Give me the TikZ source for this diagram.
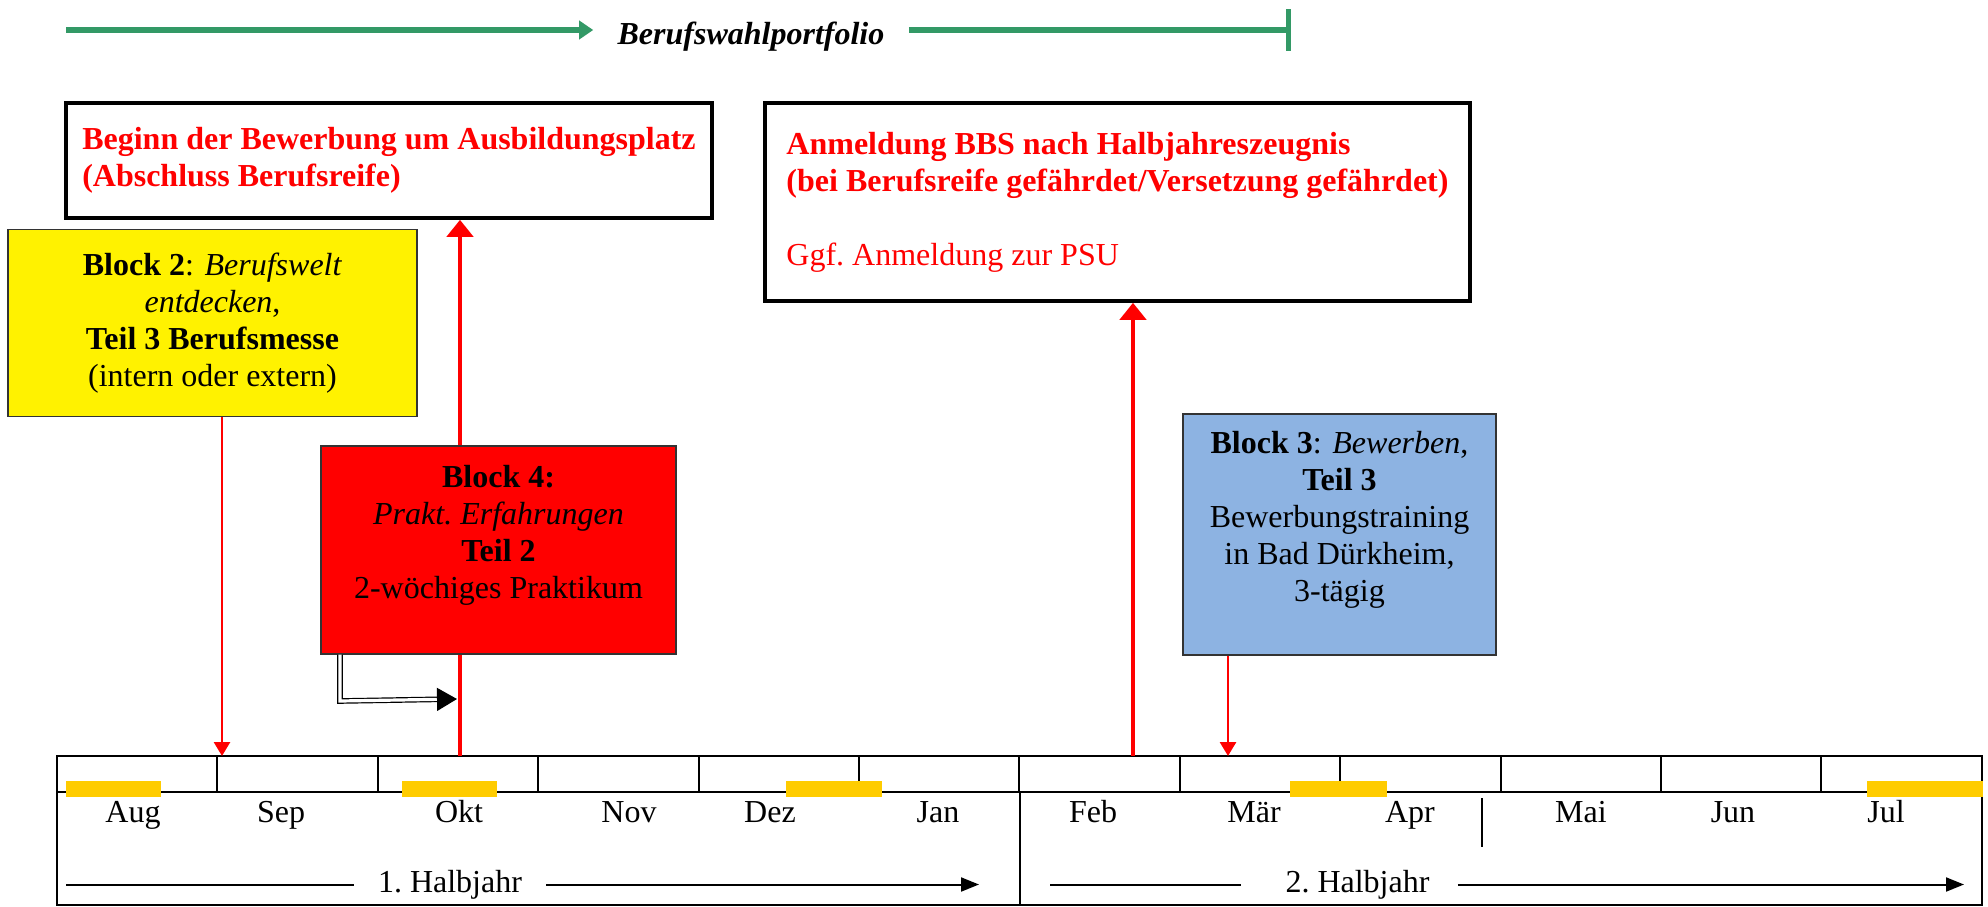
\documentclass[tikz,border=0pt]{standalone}
\usepackage{fontspec}
\setmainfont{Liberation Serif}
\usepackage{tikz}
\usetikzlibrary{arrows.meta}

\definecolor{pfgreen}{RGB}{51,153,102}
\definecolor{ferienorange}{RGB}{255,204,0}
\definecolor{blockblue}{RGB}{141,179,226}

\begin{document}
\begin{tikzpicture}[x=0.5pt,y=-0.5pt,font=\fontsize{16}{18.5}\selectfont,
  hinweis/.style={draw,line width=1.8pt,align=left,inner sep=0pt,text=red},
  block/.style={draw=black!80,line width=0.6pt,align=center,inner sep=0pt},
  zelle/.style={draw,line width=1pt,minimum width=80.2pt,minimum height=18pt,inner sep=0pt},
  monat/.style={text height=11pt,text depth=3.5pt,inner sep=0pt},
  halbjahr/.style={text height=11pt,text depth=3.5pt,inner xsep=12pt,inner ysep=0pt},
  ferien/.style={fill=ferienorange},
  gruen/.style={pfgreen,line width=2.6pt},
  linie/.style={line width=1pt},
  pfeil/.style={red,line width=1.4pt,-{Triangle[length=7pt,width=8pt]}},
  dickpfeil/.style={red,line width=2.4pt,-{Triangle[length=8.5pt,width=13pt]}},
  doppelpfeil/.style={double,double distance=1.6pt,line width=0.6pt,-{Triangle[length=10pt,width=11.5pt]}}]

    \useasboundingbox (0,0) rectangle (1988,906);

    % Berufswahlportfolio
    \node [font=\fontsize{16}{18.5}\selectfont\bfseries\itshape,inner xsep=12pt] (pf) at (751,37) {Berufswahlportfolio};
    \coordinate (pfstart) at (66,30);
    \coordinate (pfende) at (1291,30);
    \draw[gruen,-{Triangle[length=7pt,width=9pt]}] (pfstart) -- (pfstart -| pf.west);
    \draw[gruen,-{Bar[width=21pt]}] (pfstart -| pf.east) -- (pfende);

    % Hinweise
    \node [hinweis,minimum width=323pt,minimum height=57.5pt] (beginn) at (389,160.5)
      {\textbf{Beginn der Bewerbung um Ausbildungsplatz}\\ \textbf{(Abschluss Berufsreife)}};
    \node [hinweis,minimum width=352.5pt,minimum height=99pt] (anm) at (1117.5,202)
      {\textbf{Anmeldung BBS nach Halbjahreszeugnis}\\ \textbf{(bei Berufsreife gefährdet/Versetzung gefährdet)}\\[18.5pt] Ggf.\ Anmeldung zur PSU};

    % Zeitleiste
    \node [zelle] (c1) at (137.2,774) {};
    \node [zelle] (c2) at (297.6,774) {};
    \node [zelle] (c3) at (458.0,774) {};
    \node [zelle] (c4) at (618.4,774) {};
    \node [zelle] (c5) at (778.8,774) {};
    \node [zelle] (c6) at (939.2,774) {};
    \node [zelle] (c7) at (1099.6,774) {};
    \node [zelle] (c8) at (1260.0,774) {};
    \node [zelle] (c9) at (1420.4,774) {};
    \node [zelle] (c10) at (1580.8,774) {};
    \node [zelle] (c11) at (1741.2,774) {};
    \node [zelle] (c12) at (1901.6,774) {};
    \node [draw,line width=1.2pt,minimum width=962.5pt,minimum height=74.5pt,inner sep=0pt] (zeitleiste) at (1019.5,830.5) {};
    \draw[linie] (c6.south east) -- (c6.south east |- zeitleiste.south);
    \coordinate (strich) at (1482,798);
    \draw[linie] (strich) -- ++(0,49);

    % Ferien
    \fill[ferien] (66,781) rectangle (161,797);
    \fill[ferien] (402,781) rectangle (497,797);
    \fill[ferien] (786,781) rectangle (882,797);
    \fill[ferien] (1290,781) rectangle (1387,797);
    \fill[ferien] (1867,781) rectangle (1983,797);

    % Monate
    \node [monat] (Aug) at (133,814.5) {Aug};
    \node [monat] (Sep) at (281,814.5) {Sep};
    \node [monat] (Okt) at (459,814.5) {Okt};
    \node [monat] (Nov) at (629,814.5) {Nov};
    \node [monat] (Dez) at (770,814.5) {Dez};
    \node [monat] (Jan) at (938,814.5) {Jan};
    \node [monat] (Feb) at (1093,814.5) {Feb};
    \node [monat] (Mar) at (1254,814.5) {Mär};
    \node [monat] (Apr) at (1410,814.5) {Apr};
    \node [monat] (Mai) at (1581,814.5) {Mai};
    \node [monat] (Jun) at (1733,814.5) {Jun};
    \node [monat] (Jul) at (1886,814.5) {Jul};

    % Halbjahre
    \node [halbjahr] (hj1) at (450,884.5) {1.\ Halbjahr};
    \coordinate (hj1start) at (66,884.5);
    \coordinate (hj1ende) at (979,884.5);
    \draw[linie] (hj1start) -- (hj1.west);
    \draw[linie,-{Triangle[length=9pt,width=7pt]}] (hj1.east) -- (hj1ende);

    \node [halbjahr] (hj2) at (1357.5,884.5) {2.\ Halbjahr};
    \coordinate (hj2start) at (1050,884.5);
    \coordinate (hj2ende) at (1964,884.5);
    \draw[linie] (hj2start) -- ([xshift=-10pt]hj2.west);
    \draw[linie,-{Triangle[length=9pt,width=7pt]}] ([xshift=2pt]hj2.east) -- (hj2ende);

    % Bausteine
    \node [block,fill=yellow,minimum width=204.5pt,minimum height=93.5pt] (b2) at (212.5,323)
      {\textbf{Block 2}: \textit{Berufswelt}\\ \textit{entdecken},\\ \textbf{Teil 3 Berufsmesse}\\ (intern oder extern)};
    \node [block,fill=blockblue,minimum width=156.5pt,minimum height=120.5pt] (b3) at (1339.5,534.5)
      {\textbf{Block 3}: \textit{Bewerben},\\ \textbf{Teil 3}\\ Bewerbungstraining\\ in Bad Dürkheim,\\ 3-tägig\\ \mbox{}};

    % Pfeile
    \coordinate (sepmark) at (222,756);
    \coordinate (oktmark) at (460,756);
    \coordinate (febmark) at (1133,756);
    \coordinate (marmark) at (1228,756);
    \draw[dickpfeil] (oktmark) -- (oktmark |- beginn.south);
    \draw[dickpfeil] (febmark) -- (febmark |- anm.south);
    \draw[pfeil] (sepmark |- b2.south) -- (sepmark);
    \draw[pfeil] (marmark |- b3.south) -- (marmark);

    \node [block,fill=red,minimum width=177.5pt,minimum height=104pt] (b4) at (498.5,550)
      {\textbf{Block 4:}\\ \textit{Prakt.\ Erfahrungen}\\ \textbf{Teil 2}\\ 2-wöchiges Praktikum\\ \mbox{}};

    \coordinate (knick) at (340,701);
    \coordinate (pktip) at (457,699);
    \draw[doppelpfeil] (knick |- b4.south) -- (knick) -- (pktip);

\end{tikzpicture}
\end{document}
